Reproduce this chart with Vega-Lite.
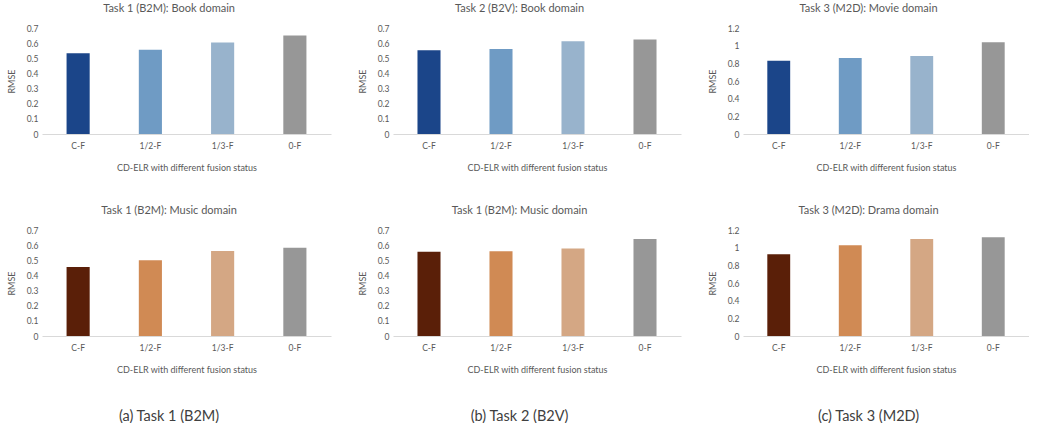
{
  "$schema": "https://vega.github.io/schema/vega-lite/v6.json",
  "background": "white",
  "padding": {"left": 7, "top": 3, "right": 0, "bottom": 0},
  "config": {
    "font": "Lato",
    "view": {"stroke": null},
    "axis": {"grid": false, "labelColor": "#595959", "titleColor": "#595959", "labelFont": "Lato", "titleFont": "Lato", "labelFontSize": 8.5, "titleFontSize": 9, "titleFontWeight": "normal", "ticks": false, "tickSize": 0},
    "axisX": {"domainColor": "#d9d9d9", "labelPadding": 7, "titlePadding": 14, "labelAngle": 0},
    "axisY": {"domain": false, "labelPadding": 4, "titlePadding": 10},
    "title": {"fontSize": 11, "fontWeight": "normal", "color": "#595959", "font": "Lato", "anchor": "middle", "frame": "bounds", "offset": 10}
  },
  "data": {"values": [
    {"panel": "p1", "status": "C-F", "rmse": 0.533},
    {"panel": "p1", "status": "1/2-F", "rmse": 0.556},
    {"panel": "p1", "status": "1/3-F", "rmse": 0.605},
    {"panel": "p1", "status": "0-F", "rmse": 0.651},
    {"panel": "p2", "status": "C-F", "rmse": 0.553},
    {"panel": "p2", "status": "1/2-F", "rmse": 0.562},
    {"panel": "p2", "status": "1/3-F", "rmse": 0.613},
    {"panel": "p2", "status": "0-F", "rmse": 0.624},
    {"panel": "p3", "status": "C-F", "rmse": 0.83},
    {"panel": "p3", "status": "1/2-F", "rmse": 0.86},
    {"panel": "p3", "status": "1/3-F", "rmse": 0.883},
    {"panel": "p3", "status": "0-F", "rmse": 1.038},
    {"panel": "p4", "status": "C-F", "rmse": 0.456},
    {"panel": "p4", "status": "1/2-F", "rmse": 0.5},
    {"panel": "p4", "status": "1/3-F", "rmse": 0.561},
    {"panel": "p4", "status": "0-F", "rmse": 0.583},
    {"panel": "p5", "status": "C-F", "rmse": 0.556},
    {"panel": "p5", "status": "1/2-F", "rmse": 0.56},
    {"panel": "p5", "status": "1/3-F", "rmse": 0.578},
    {"panel": "p5", "status": "0-F", "rmse": 0.641},
    {"panel": "p6", "status": "C-F", "rmse": 0.925},
    {"panel": "p6", "status": "1/2-F", "rmse": 1.026},
    {"panel": "p6", "status": "1/3-F", "rmse": 1.098},
    {"panel": "p6", "status": "0-F", "rmse": 1.117}
  ]},
  "spacing": 27,
  "resolve": {"scale": {"color": "independent"}},
  "hconcat": [
    {
      "spacing": 96,
      "bounds": "flush",
      "resolve": {"scale": {"color": "independent"}},
      "title": {"text": "(a) Task 1 (B2M)", "orient": "bottom", "fontSize": 14.5, "color": "#404040", "offset": 35},
      "vconcat": [
        {
          "width": 289, "height": 106,
          "title": "Task 1 (B2M): Book domain",
          "transform": [{"filter": "datum.panel === 'p1'"}],
          "mark": {"type": "bar"},
          "encoding": {
            "x": {"field": "status", "type": "nominal", "sort": ["C-F", "1/2-F", "1/3-F", "0-F"], "scale": {"paddingInner": 0.68, "paddingOuter": 0.34}, "axis": {"title": "CD-ELR with different fusion status"}},
            "y": {"field": "rmse", "type": "quantitative", "scale": {"domain": [0, 0.7], "nice": false}, "axis": {"title": "RMSE", "values": [0, 0.1, 0.2, 0.3, 0.4, 0.5, 0.6, 0.7], "format": "~g"}},
            "color": {"field": "status", "type": "nominal", "scale": {"domain": ["C-F", "1/2-F", "1/3-F", "0-F"], "range": ["#1b4589", "#6f9bc4", "#98b3cc", "#979797"]}, "legend": null}
          }
        },
        {
          "width": 289, "height": 106,
          "title": "Task 1 (B2M): Music domain",
          "transform": [{"filter": "datum.panel === 'p4'"}],
          "mark": {"type": "bar"},
          "encoding": {
            "x": {"field": "status", "type": "nominal", "sort": ["C-F", "1/2-F", "1/3-F", "0-F"], "scale": {"paddingInner": 0.68, "paddingOuter": 0.34}, "axis": {"title": "CD-ELR with different fusion status"}},
            "y": {"field": "rmse", "type": "quantitative", "scale": {"domain": [0, 0.7], "nice": false}, "axis": {"title": "RMSE", "values": [0, 0.1, 0.2, 0.3, 0.4, 0.5, 0.6, 0.7], "format": "~g"}},
            "color": {"field": "status", "type": "nominal", "scale": {"domain": ["C-F", "1/2-F", "1/3-F", "0-F"], "range": ["#5a1f08", "#d08a54", "#d4a784", "#979797"]}, "legend": null}
          }
        }
      ]
    },
    {
      "spacing": 96,
      "bounds": "flush",
      "resolve": {"scale": {"color": "independent"}},
      "title": {"text": "(b) Task 2 (B2V)", "orient": "bottom", "fontSize": 14.5, "color": "#404040", "offset": 35},
      "vconcat": [
        {
          "width": 288, "height": 106,
          "title": "Task 2 (B2V): Book domain",
          "transform": [{"filter": "datum.panel === 'p2'"}],
          "mark": {"type": "bar"},
          "encoding": {
            "x": {"field": "status", "type": "nominal", "sort": ["C-F", "1/2-F", "1/3-F", "0-F"], "scale": {"paddingInner": 0.68, "paddingOuter": 0.34}, "axis": {"title": "CD-ELR with different fusion status"}},
            "y": {"field": "rmse", "type": "quantitative", "scale": {"domain": [0, 0.7], "nice": false}, "axis": {"title": "RMSE", "values": [0, 0.1, 0.2, 0.3, 0.4, 0.5, 0.6, 0.7], "format": "~g"}},
            "color": {"field": "status", "type": "nominal", "scale": {"domain": ["C-F", "1/2-F", "1/3-F", "0-F"], "range": ["#1b4589", "#6f9bc4", "#98b3cc", "#979797"]}, "legend": null}
          }
        },
        {
          "width": 288, "height": 106,
          "title": "Task 1 (B2M): Music domain",
          "transform": [{"filter": "datum.panel === 'p5'"}],
          "mark": {"type": "bar"},
          "encoding": {
            "x": {"field": "status", "type": "nominal", "sort": ["C-F", "1/2-F", "1/3-F", "0-F"], "scale": {"paddingInner": 0.68, "paddingOuter": 0.34}, "axis": {"title": "CD-ELR with different fusion status"}},
            "y": {"field": "rmse", "type": "quantitative", "scale": {"domain": [0, 0.7], "nice": false}, "axis": {"title": "RMSE", "values": [0, 0.1, 0.2, 0.3, 0.4, 0.5, 0.6, 0.7], "format": "~g"}},
            "color": {"field": "status", "type": "nominal", "scale": {"domain": ["C-F", "1/2-F", "1/3-F", "0-F"], "range": ["#5a1f08", "#d08a54", "#d4a784", "#979797"]}, "legend": null}
          }
        }
      ]
    },
    {
      "spacing": 96,
      "bounds": "flush",
      "resolve": {"scale": {"color": "independent"}},
      "title": {"text": "(c) Task 3 (M2D)", "orient": "bottom", "fontSize": 14.5, "color": "#404040", "offset": 35},
      "vconcat": [
        {
          "width": 286, "height": 106,
          "title": "Task 3 (M2D): Movie domain",
          "transform": [{"filter": "datum.panel === 'p3'"}],
          "mark": {"type": "bar"},
          "encoding": {
            "x": {"field": "status", "type": "nominal", "sort": ["C-F", "1/2-F", "1/3-F", "0-F"], "scale": {"paddingInner": 0.68, "paddingOuter": 0.34}, "axis": {"title": "CD-ELR with different fusion status"}},
            "y": {"field": "rmse", "type": "quantitative", "scale": {"domain": [0, 1.2], "nice": false}, "axis": {"title": "RMSE", "values": [0, 0.2, 0.4, 0.6, 0.8, 1, 1.2], "format": "~g"}},
            "color": {"field": "status", "type": "nominal", "scale": {"domain": ["C-F", "1/2-F", "1/3-F", "0-F"], "range": ["#1b4589", "#6f9bc4", "#98b3cc", "#979797"]}, "legend": null}
          }
        },
        {
          "width": 286, "height": 106,
          "title": "Task 3 (M2D): Drama domain",
          "transform": [{"filter": "datum.panel === 'p6'"}],
          "mark": {"type": "bar"},
          "encoding": {
            "x": {"field": "status", "type": "nominal", "sort": ["C-F", "1/2-F", "1/3-F", "0-F"], "scale": {"paddingInner": 0.68, "paddingOuter": 0.34}, "axis": {"title": "CD-ELR with different fusion status"}},
            "y": {"field": "rmse", "type": "quantitative", "scale": {"domain": [0, 1.2], "nice": false}, "axis": {"title": "RMSE", "values": [0, 0.2, 0.4, 0.6, 0.8, 1, 1.2], "format": "~g"}},
            "color": {"field": "status", "type": "nominal", "scale": {"domain": ["C-F", "1/2-F", "1/3-F", "0-F"], "range": ["#5a1f08", "#d08a54", "#d4a784", "#979797"]}, "legend": null}
          }
        }
      ]
    }
  ]
}
